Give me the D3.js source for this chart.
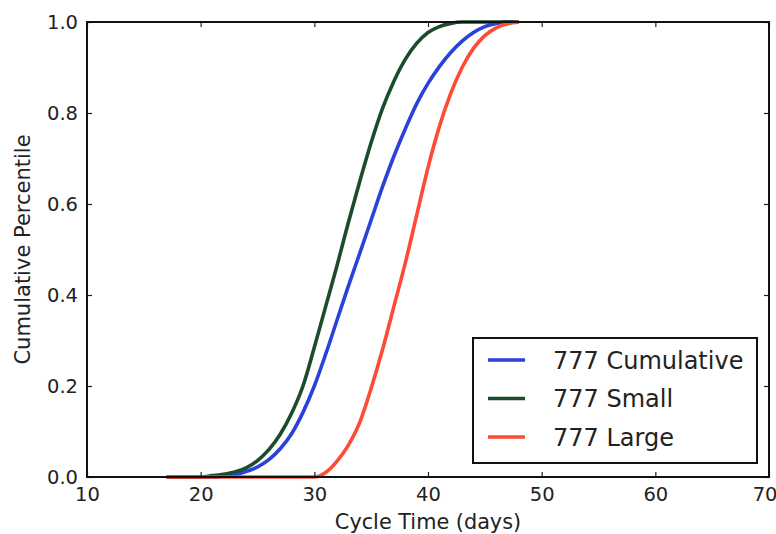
<!DOCTYPE html>
<html>
<head>
<meta charset="utf-8">
<script src="https://cdn.jsdelivr.net/npm/d3@7"></script>
<style>
  body { margin: 0; background: #fff; }
  text { font-family: "DejaVu Sans", sans-serif; fill: #222; }
</style>
</head>
<body>
<div class="cdf-chart"></div>
<script>
// days on the x axis, one reading per day
const days = [17,18,19,20,21,22,23,24,25,26,27,28,29,30,31,32,33,34,35,36,37,38,39,40,41,42,43,44,45,46,47,48]

const cumulative = [0,0,0,0,0,0.002,0.005,0.012,0.022,0.038,0.062,0.095,0.142,0.2,0.27,0.345,0.42,0.492,0.565,0.638,0.705,0.765,0.82,0.865,0.902,0.933,0.958,0.977,0.99,0.997,1,1]
const small = [0,0,0,0,0.003,0.006,0.011,0.02,0.036,0.06,0.094,0.14,0.2,0.285,0.375,0.465,0.56,0.65,0.735,0.81,0.87,0.918,0.953,0.977,0.99,0.997,1,1,1,1,1,1]
const large = [0,0,0,0,0,0,0,0,0,0,0,0,0,0,0.01,0.035,0.07,0.12,0.195,0.28,0.375,0.47,0.575,0.68,0.77,0.843,0.9,0.942,0.97,0.987,0.996,1]

const seriesNames = ["777 Cumulative", "777 Small", "777 Large"]
const seriesColors = ["#2a42d8", "#1b4d2c", "#ff4a35"]

const xTicks = [10, 20, 30, 40, 50, 60, 70]
const yTicks = [0, 0.2, 0.4, 0.6, 0.8, 1.0]

const series = [cumulative, small, large].map(function(vals, i) {
    return {
        name: seriesNames[i],
        color: seriesColors[i],
        values: days.map(function(d, j) { return {day: d, pct: vals[j]} })
    }
})

const width = 776, height = 534
const margin = {top: 22, right: 7, bottom: 57, left: 87}

const svg = d3.select(".cdf-chart")
    .append("svg")
        .attr("width", width)
        .attr("height", height)

let x = d3.scaleLinear()
    .domain([10, 70])
    .range([margin.left, width - margin.right])

let y = d3.scaleLinear()
    .domain([0, 1])
    .range([height - margin.bottom, margin.top])

// curves
const line = d3.line()
    .x(function(d) { return x(d.day) })
    .y(function(d) { return y(d.pct) })
    .curve(d3.curveMonotoneX)

svg.selectAll(".curve")
    .data(series)
    .enter()
    .append("path")
        .attr("class", "curve")
        .attr("d", function(d) { return line(d.values) })
        .attr("fill", "none")
        .attr("stroke", function(d) { return d.color })
        .attr("stroke-width", 3.6)
        .attr("stroke-linejoin", "round")

// axes, ticks pointing inward on all four sides
svg.append("g")
    .attr("transform", "translate(0," + y(0) + ")")
    .call(d3.axisBottom(x).tickValues(xTicks).tickSizeInner(-5).tickSizeOuter(0).tickPadding(10))
    .call(function(g) { g.select(".domain").remove() })
    .selectAll("text")
        .attr("font-size", 19.5)
        .attr("font-family", "DejaVu Sans")

// last label sits on the window edge, keep it inside
svg.selectAll(".tick text")
    .filter(function(d) { return d === 70 })
    .attr("text-anchor", "end")
    .attr("dx", 8)

svg.append("g")
    .attr("transform", "translate(0," + y(1) + ")")
    .call(d3.axisTop(x).tickValues(xTicks).tickSizeInner(-5).tickSizeOuter(0).tickFormat(""))
    .call(function(g) { g.select(".domain").remove() })

svg.append("g")
    .attr("transform", "translate(" + x(10) + ",0)")
    .call(d3.axisLeft(y).tickValues(yTicks).tickFormat(d3.format(".1f")).tickSizeInner(-5).tickSizeOuter(0).tickPadding(9))
    .call(function(g) { g.select(".domain").remove() })
    .selectAll("text")
        .attr("font-size", 19.5)
        .attr("font-family", "DejaVu Sans")

svg.append("g")
    .attr("transform", "translate(" + x(70) + ",0)")
    .call(d3.axisRight(y).tickValues(yTicks).tickSizeInner(-5).tickSizeOuter(0).tickFormat(""))
    .call(function(g) { g.select(".domain").remove() })

svg.selectAll(".tick line")
    .attr("stroke", "#222")
    .attr("stroke-width", 1.2)

// frame
svg.append("rect")
    .attr("x", x(10))
    .attr("y", y(1))
    .attr("width", x(70) - x(10))
    .attr("height", y(0) - y(1))
    .attr("fill", "none")
    .attr("stroke", "#111")
    .attr("stroke-width", 2)

// axis labels
svg.append("text")
    .attr("x", (x(10) + x(70)) / 2)
    .attr("y", 529)
    .attr("text-anchor", "middle")
    .attr("font-size", 20.8)
    .text("Cycle Time (days)")

svg.append("text")
    .attr("transform", "translate(30," + (y(0) + y(1)) / 2 + ") rotate(-90)")
    .attr("text-anchor", "middle")
    .attr("font-size", 21)
    .text("Cumulative Percentile")

// legend
const legend = svg.append("g")
    .attr("transform", "translate(473,338)")

legend.append("rect")
    .attr("width", 284)
    .attr("height", 125)
    .attr("fill", "#fff")
    .attr("stroke", "#111")
    .attr("stroke-width", 2)

const rows = legend.selectAll(".row")
    .data(series)
    .enter()
    .append("g")
        .attr("class", "row")
        .attr("transform", function(d, i) { return "translate(0," + (22 + i * 38.5) + ")" })

rows.append("line")
    .attr("x1", 15)
    .attr("x2", 52)
    .attr("stroke", function(d) { return d.color })
    .attr("stroke-width", 3.6)

rows.append("text")
    .attr("x", 80)
    .attr("dy", "0.36em")
    .attr("font-size", 24)
    .text(function(d) { return d.name })
</script>
</body>
</html>
